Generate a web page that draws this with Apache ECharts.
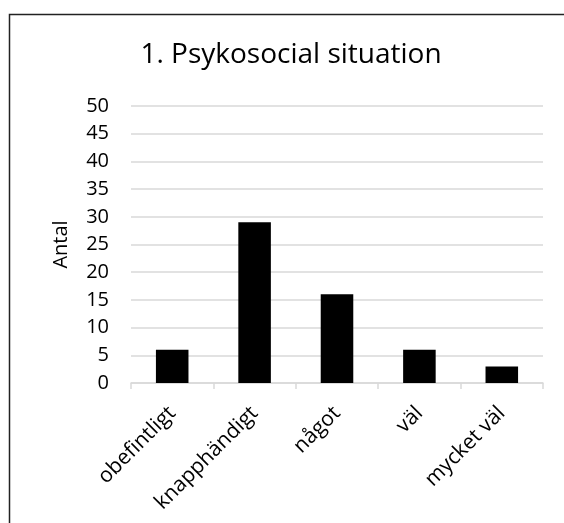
<!DOCTYPE html>
<html>
<head>
<meta charset="utf-8">
<script src="https://cdn.jsdelivr.net/npm/echarts@6/dist/echarts.min.js"></script>
<style>
  html, body { margin: 0; padding: 0; background: #fff; }
  #chart { width: 564px; height: 523px; }
</style>
</head>
<body>
<div id="chart"></div>
<script>
// Responses per category
const categories = ['obefintligt', 'knapphändigt', 'något', 'väl', 'mycket väl'];
const counts = [6, 29, 16, 6, 3];
const chartTitle = '1. Psykosocial situation';
const yAxisName = 'Antal';

const FONT = '"Open Sans"';
const chart = echarts.init(document.getElementById('chart'), null, { renderer: 'canvas' });

chart.setOption({
  animation: false,
  backgroundColor: '#ffffff',
  textStyle: { fontFamily: FONT },
  title: {
    text: chartTitle,
    left: 286,
    top: 36,
    textAlign: 'center',
    textStyle: { fontFamily: FONT, fontSize: 28, fontWeight: 'normal', color: '#000' }
  },
  graphic: [{
    type: 'rect',
    shape: { x: 9.5, y: 14.5, width: 600, height: 600 },
    style: { fill: 'none', stroke: '#222', lineWidth: 1.5 },
    silent: true,
    z: 100
  }],
  grid: { left: 131, right: 21, top: 106, bottom: 140, containLabel: false },
  xAxis: {
    type: 'category',
    data: categories,
    boundaryGap: true,
    axisLine: { lineStyle: { color: '#d9d9d9', width: 1.5 } },
    axisTick: { show: true, length: 6, alignWithLabel: false, lineStyle: { color: '#d9d9d9', width: 1.5 } },
    axisLabel: {
      rotate: 45,
      interval: 0,
      margin: 27,
      verticalAlign: 'middle',
      fontFamily: FONT,
      fontSize: 21,
      color: '#000'
    }
  },
  yAxis: {
    type: 'value',
    min: 0,
    max: 50,
    interval: 5,
    name: yAxisName,
    nameLocation: 'middle',
    nameGap: 60,
    nameRotate: 90,
    nameTextStyle: { fontFamily: FONT, fontSize: 20, color: '#000' },
    axisLine: { show: false },
    axisTick: { show: false },
    axisLabel: { margin: 22, fontFamily: FONT, fontSize: 20, color: '#000' },
    splitLine: { lineStyle: { color: '#d9d9d9', width: 1.5 } }
  },
  series: [{
    type: 'bar',
    data: counts,
    barWidth: '39.5%',
    itemStyle: { color: '#000' }
  }]
});
</script>
</body>
</html>
